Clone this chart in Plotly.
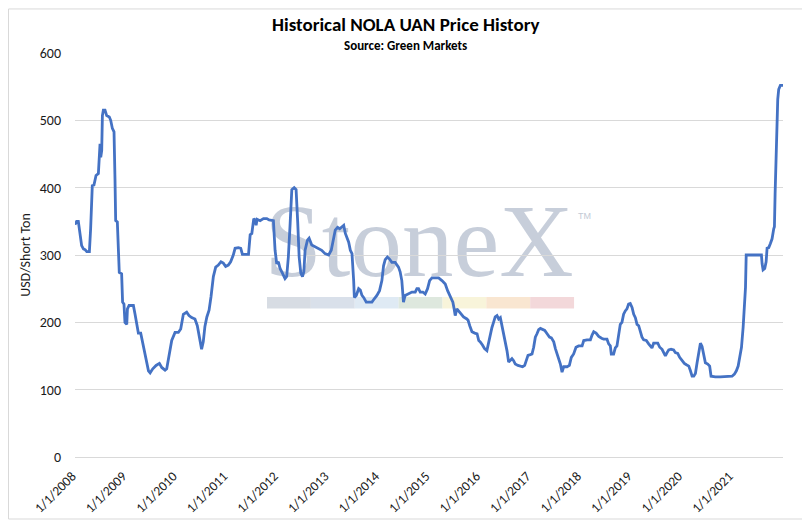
import plotly.graph_objects as go


# weekly NOLA UAN price (USD / short ton)
dates = [
    "2008-01-01", "2008-01-13", "2008-01-25", "2008-02-06", "2008-02-18", "2008-03-02", "2008-03-14",
    "2008-03-26", "2008-04-14", "2008-04-23", "2008-05-05", "2008-05-17", "2008-06-01", "2008-06-18",
    "2008-06-25", "2008-06-30", "2008-07-05", "2008-07-12", "2008-07-17", "2008-07-24", "2008-08-05",
    "2008-08-17", "2008-09-05", "2008-09-15", "2008-09-27", "2008-10-09", "2008-10-16", "2008-10-21",
    "2008-11-02", "2008-11-09", "2008-11-16", "2008-12-03", "2008-12-10", "2008-12-20", "2008-12-27",
    "2009-01-09", "2009-01-14", "2009-01-26", "2009-02-26", "2009-03-10", "2009-03-22", "2009-04-03",
    "2009-04-20", "2009-05-05", "2009-05-22", "2009-06-03", "2009-06-15", "2009-06-27", "2009-07-16",
    "2009-08-09", "2009-09-02", "2009-09-19", "2009-10-13", "2009-10-25", "2009-11-10", "2009-11-30",
    "2009-12-24", "2010-01-17", "2010-02-03", "2010-02-22", "2010-03-18", "2010-04-04", "2010-04-23",
    "2010-05-17", "2010-06-03", "2010-06-18", "2010-07-04", "2010-07-16", "2010-07-28", "2010-08-11",
    "2010-08-27", "2010-09-10", "2010-09-27", "2010-10-14", "2010-11-02", "2010-11-21", "2010-12-08",
    "2010-12-25", "2011-01-13", "2011-01-30", "2011-02-18", "2011-03-03", "2011-03-27", "2011-04-13",
    "2011-04-25", "2011-06-08", "2011-06-20", "2011-07-02", "2011-07-09", "2011-07-16", "2011-07-26",
    "2011-08-02", "2011-08-09", "2011-08-31", "2011-09-24", "2011-10-18", "2011-11-04", "2011-12-05",
    "2011-12-17", "2011-12-29", "2012-01-10", "2012-01-22", "2012-02-08", "2012-02-27", "2012-03-10",
    "2012-03-22", "2012-04-04", "2012-04-16", "2012-05-03", "2012-05-17", "2012-05-29", "2012-06-08",
    "2012-06-20", "2012-07-02", "2012-07-12", "2012-07-21", "2012-08-07", "2012-08-19", "2012-09-07",
    "2012-10-01", "2012-10-25", "2012-11-18", "2012-12-12", "2013-01-07", "2013-01-26", "2013-02-10",
    "2013-02-24", "2013-03-13", "2013-03-28", "2013-04-14", "2013-04-26", "2013-05-08", "2013-05-20",
    "2013-06-01", "2013-06-13", "2013-06-25", "2013-07-07", "2013-07-12", "2013-07-26", "2013-08-12",
    "2013-08-24", "2013-09-05", "2013-09-17", "2013-10-06", "2013-10-23", "2013-11-16", "2013-12-03",
    "2013-12-22", "2014-01-10", "2014-01-27", "2014-02-08", "2014-02-20", "2014-03-08", "2014-03-23",
    "2014-04-09", "2014-05-03", "2014-05-27", "2014-06-08", "2014-06-20", "2014-06-27", "2014-07-02",
    "2014-07-14", "2014-07-31", "2014-09-01", "2014-09-25", "2014-10-07", "2014-10-19", "2014-10-31",
    "2014-11-19", "2014-12-06", "2014-12-23", "2015-01-07", "2015-01-24", "2015-02-10", "2015-03-13",
    "2015-04-06", "2015-04-30", "2015-05-17", "2015-06-05", "2015-06-24", "2015-07-03", "2015-07-11",
    "2015-07-23", "2015-08-04", "2015-08-21", "2015-09-09", "2015-10-03", "2015-10-12", "2015-10-24",
    "2015-11-09", "2015-11-29", "2015-12-16", "2015-12-28", "2016-01-08", "2016-01-25", "2016-02-08",
    "2016-02-25", "2016-03-08", "2016-03-20", "2016-04-01", "2016-04-13", "2016-04-25", "2016-05-08",
    "2016-05-20", "2016-06-01", "2016-06-13", "2016-06-25", "2016-07-07", "2016-07-19", "2016-07-31",
    "2016-08-12", "2016-08-24", "2016-09-05", "2016-09-17", "2016-10-06", "2016-10-23", "2016-11-09",
    "2016-11-24", "2016-12-03", "2016-12-18", "2017-01-04", "2017-01-16", "2017-01-28", "2017-02-09",
    "2017-02-21", "2017-03-05", "2017-03-18", "2017-04-03", "2017-04-18", "2017-05-05", "2017-05-22",
    "2017-06-05", "2017-06-22", "2017-07-04", "2017-07-16", "2017-07-28", "2017-08-09", "2017-08-21",
    "2017-09-02", "2017-09-26", "2017-10-13", "2017-10-27", "2017-11-13", "2017-11-30", "2017-12-19",
    "2018-01-13", "2018-01-25", "2018-02-18", "2018-03-14", "2018-03-26", "2018-04-07", "2018-04-24",
    "2018-05-13", "2018-06-06", "2018-06-18", "2018-07-12", "2018-07-24", "2018-08-05", "2018-08-12",
    "2018-08-29", "2018-09-10", "2018-09-22", "2018-10-04", "2018-10-16", "2018-10-28", "2018-11-09",
    "2018-11-21", "2018-12-03", "2018-12-15", "2018-12-27", "2019-01-09", "2019-01-21", "2019-02-02",
    "2019-02-14", "2019-02-26", "2019-03-10", "2019-03-22", "2019-04-03", "2019-04-22", "2019-05-09",
    "2019-05-21", "2019-06-02", "2019-06-14", "2019-07-14", "2019-07-28", "2019-08-14", "2019-08-26",
    "2019-09-07", "2019-09-19", "2019-10-01", "2019-10-18", "2019-11-06", "2019-11-18", "2019-12-05",
    "2019-12-19", "2020-01-05", "2020-01-22", "2020-02-06", "2020-02-23", "2020-03-06", "2020-03-18",
    "2020-03-30", "2020-04-11", "2020-04-23", "2020-05-05", "2020-05-17", "2020-05-29", "2020-06-10",
    "2020-06-22", "2020-07-09", "2020-07-23", "2020-08-02", "2020-09-02", "2020-10-08", "2020-11-13",
    "2020-12-19", "2021-01-01", "2021-01-18", "2021-02-01", "2021-02-14", "2021-02-26", "2021-03-10",
    "2021-03-22", "2021-04-01", "2021-04-08", "2021-04-13", "2021-05-02", "2021-06-07", "2021-07-13",
    "2021-08-01", "2021-08-06", "2021-08-13", "2021-08-25", "2021-09-04", "2021-09-11", "2021-09-23",
    "2021-10-05", "2021-10-17", "2021-10-29", "2021-11-03", "2021-11-08", "2021-11-13", "2021-11-17",
    "2021-11-22", "2021-11-27", "2021-12-04", "2021-12-16", "2022-01-04",
]

prices = [
    345, 350, 350, 329, 314, 309, 308,
    305, 305, 339, 403, 404, 418, 421,
    445, 465, 445, 455, 507, 515, 515,
    507, 505, 500, 488, 483, 413, 351,
    349, 314, 274, 272, 230, 227, 200,
    197, 220, 225, 225, 212, 195, 184,
    184, 170, 155, 140, 128, 125, 131,
    136, 139, 133, 129, 131, 153, 173,
    185, 185, 190, 212, 215, 210, 207,
    205, 195, 175, 160, 171, 194, 208,
    218, 238, 268, 282, 285, 290, 288,
    283, 285, 290, 300, 310, 311, 310,
    301, 301, 330, 332, 347, 354, 352,
    344, 353, 351, 354, 354, 352, 351,
    307, 287, 290, 280, 273, 265, 268,
    297, 347, 397, 400, 397, 347, 297,
    273, 268, 275, 307, 322, 325, 315,
    312, 310, 307, 302, 300, 307, 322,
    337, 341, 339, 342, 344, 332, 324,
    319, 307, 302, 262, 237, 240, 250,
    248, 240, 237, 230, 230, 230, 235,
    240, 247, 262, 284, 293, 297, 294,
    289, 289, 282, 275, 262, 240, 230,
    240, 242, 245, 245, 250, 250, 245,
    245, 242, 250, 262, 266, 266, 266,
    262, 257, 247, 237, 230, 220, 210,
    220, 217, 213, 208, 205, 203, 195,
    186, 184, 183, 173, 171, 166, 161,
    158, 171, 183, 192, 200, 208, 210,
    205, 207, 196, 183, 171, 158, 141,
    143, 146, 143, 138, 136, 135, 134,
    136, 143, 151, 152, 153, 163, 178,
    183, 189, 191, 189, 188, 183, 178,
    177, 171, 161, 153, 143, 138, 126,
    134, 134, 136, 148, 153, 163, 165,
    165, 173, 174, 174, 181, 186, 184,
    179, 176, 175, 175, 168, 165, 153,
    153, 162, 165, 180, 197, 200, 212,
    217, 220, 227, 228, 222, 212, 207,
    197, 195, 187, 178, 174, 173, 168,
    164, 162, 169, 169, 163, 160, 155,
    150, 155, 159, 160, 159, 155, 154,
    148, 143, 139, 137, 135, 128, 120,
    120, 124, 140, 155, 169, 164, 150,
    140, 138, 135, 120, 119, 119, 119,
    119, 120, 123, 128, 135, 148, 163,
    193, 220, 252, 300, 300, 300, 300,
    300, 287, 278, 280, 290, 310, 311,
    317, 324, 339, 342, 391, 436, 466,
    501, 531, 546, 552, 552,
]

tick_dates = ["%d-01-01" % y for y in range(2008, 2022)]
tick_labels = ["1/1/%d" % y for y in range(2008, 2022)]

# watermark bar colours, left to right
band_colors = ["#d3d8e0", "#d5dde8", "#dbe8f3", "#dae6da", "#f7f3d6", "#f8e3cc", "#f2d4d6"]


FONT = "Carlito, Lato, sans-serif"
TXT = "#1a1a1a"


trace = go.Scatter(
    x=dates,
    y=prices,
    mode="lines",
    line=dict(color="#4472c4", width=2.8),
    showlegend=False,
)

shapes = []
# StoneX watermark, kept under the line
shapes.append(dict(
    type="rect", xref="paper", yref="paper",
    x0=0.2684, x1=0.7034, y0=0.477, y1=0.647,
    line=dict(width=0), fillcolor="rgba(0,0,0,0)", layer="between",
    label=dict(text="StoneX", textposition="middle center",
               font=dict(family="Liberation Serif", size=103, color="rgba(148,162,184,0.52)")),
))
band_w = 0.06195
for i, c in enumerate(band_colors):
    shapes.append(dict(
        type="rect", xref="paper", yref="paper",
        x0=0.2712 + i * band_w, x1=0.2712 + (i + 1) * band_w, y0=0.3673, y1=0.396,
        line=dict(width=0), fillcolor=c, opacity=0.9, layer="between",
    ))
# chart frame
shapes.append(dict(
    type="rect", xref="paper", yref="paper",
    x0=-0.0939, x1=1.0311, y0=-0.1535, y1=1.109,
    line=dict(color="#d9d9d9", width=1), layer="below",
))

annotations = [
    dict(text="<b>Historical NOLA UAN Price History</b>", xref="paper", yref="paper",
         x=0.4675, y=1.0705, xanchor="center", yanchor="middle", showarrow=False,
         font=dict(family=FONT, size=19, color="#000000")),
    dict(text="<b>Source: Green Markets</b>", xref="paper", yref="paper",
         x=0.4675, y=1.0195, xanchor="center", yanchor="middle", showarrow=False,
         font=dict(family=FONT, size=13, color="#000000")),
    dict(text="TM", xref="paper", yref="paper", x=0.7203, y=0.596,
         xanchor="center", yanchor="middle", showarrow=False,
         font=dict(family="Liberation Sans", size=9, color="#c3cad5")),
]

# the page body adds 8px, so the figure is drawn 8px smaller than the window
layout = go.Layout(
    width=802,
    height=522,
    margin=dict(l=67, r=27, t=45, b=73),
    paper_bgcolor="white",
    plot_bgcolor="white",
    font=dict(family=FONT, size=14, color=TXT),
    xaxis=dict(
        type="date",
        range=["2008-01-01", "2022-01-04"],
        tickvals=tick_dates,
        ticktext=tick_labels,
        tickangle=-45,
        showgrid=False,
        showline=True,
        linecolor="#d9d9d9",
        ticks="",
        ticklabelstandoff=5,
        ticklabelshift=-3,
        tickfont=dict(family=FONT, size=13.5, color=TXT),
    ),
    yaxis=dict(
        range=[0, 600],
        dtick=100,
        showgrid=True,
        gridcolor="#d9d9d9",
        zeroline=False,
        ticks="",
        ticklabelstandoff=13,
        tickfont=dict(family=FONT, size=14, color=TXT),
        title=dict(text="USD/Short Ton", font=dict(family=FONT, size=14, color=TXT), standoff=5),
    ),
    shapes=shapes,
    annotations=annotations,
)

fig = go.Figure(data=[trace], layout=layout)
fig.write_html("out.html")
